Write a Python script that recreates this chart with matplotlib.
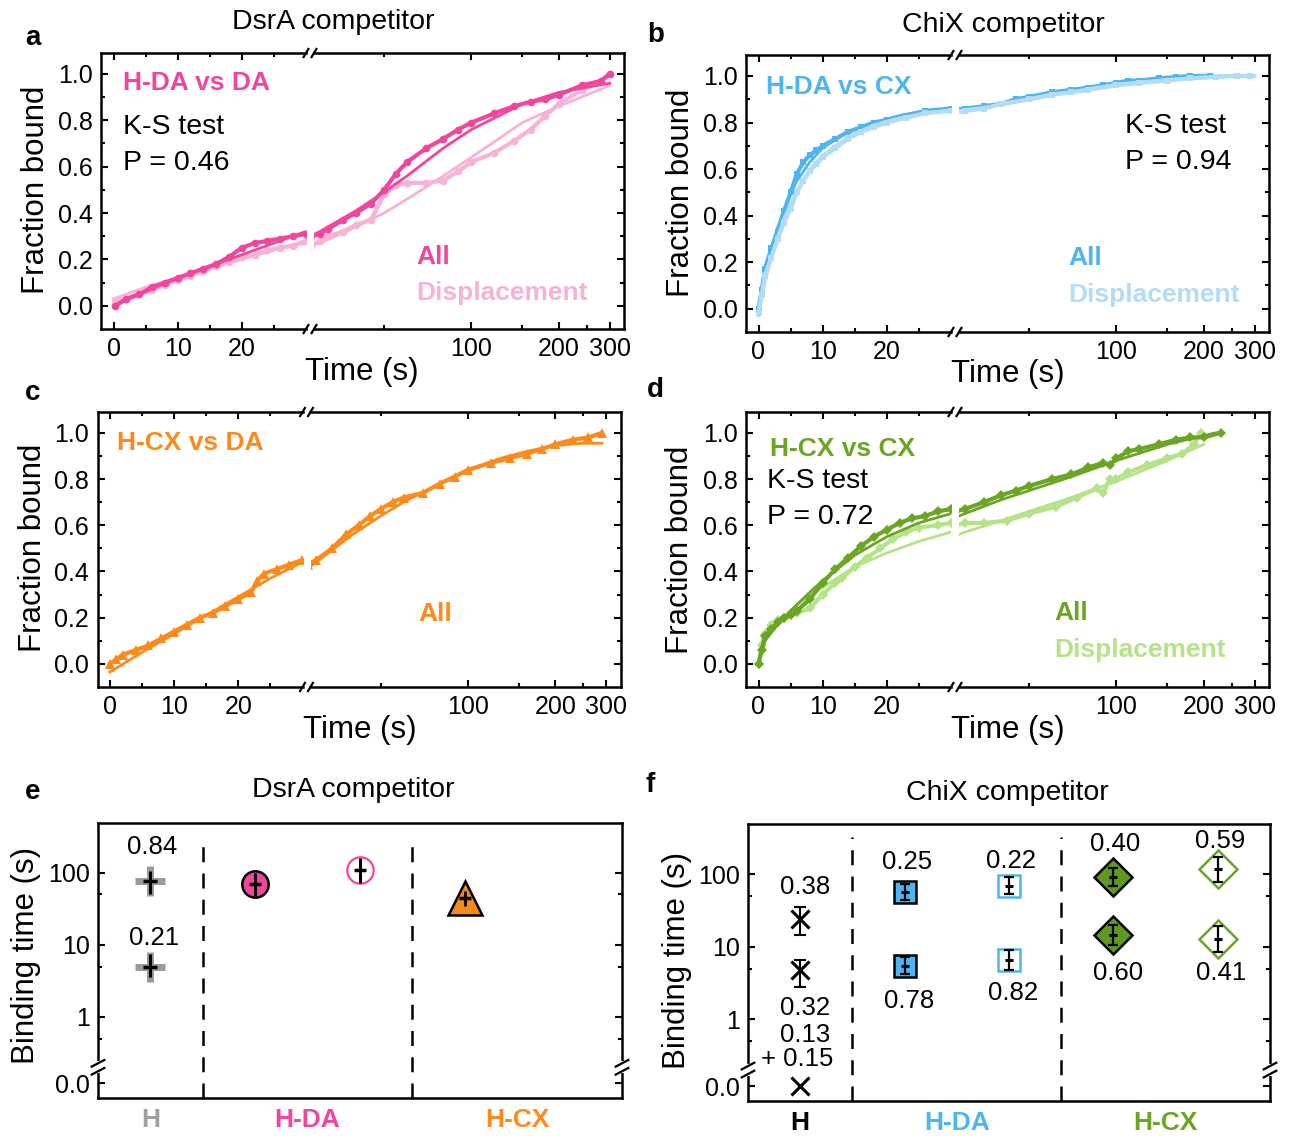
import numpy as np
import matplotlib
matplotlib.use('Agg')
import matplotlib.pyplot as plt
from matplotlib.lines import Line2D
from matplotlib.ticker import FixedLocator, NullFormatter, FixedFormatter

plt.rcParams['font.family'] = ['Liberation Sans', 'DejaVu Sans']

# ---------------- data: cumulative binding-time distributions ----------------
# panel a : H-DA vs DA
a_all_t = [0.3, 2, 4, 6, 8, 10, 12, 14, 16, 18, 20, 22, 24, 26, 28, 30, 32, 36, 40, 45, 50, 55, 60, 70, 80, 90, 100, 120, 140, 160, 180, 200, 240, 280, 300]
a_all_y = [0.0, 0.03, 0.05, 0.08, 0.10, 0.12, 0.14, 0.16, 0.18, 0.21, 0.25, 0.27, 0.28, 0.29, 0.30, 0.31, 0.33, 0.37, 0.40, 0.44, 0.50, 0.57, 0.62, 0.68, 0.72, 0.76, 0.79, 0.83, 0.86, 0.88, 0.89, 0.91, 0.95, 0.97, 1.0]
a_dis_t = [0.3, 2, 4, 6, 8, 10, 12, 14, 16, 18, 20, 22, 24, 26, 28, 30, 32, 36, 40, 45, 50, 55, 60, 70, 80, 90, 100, 120, 140, 160, 180, 200, 240, 280, 300]
a_dis_y = [0.02, 0.03, 0.05, 0.07, 0.09, 0.11, 0.13, 0.15, 0.17, 0.19, 0.21, 0.22, 0.24, 0.25, 0.26, 0.28, 0.30, 0.32, 0.35, 0.37, 0.48, 0.52, 0.53, 0.53, 0.54, 0.58, 0.62, 0.66, 0.71, 0.76, 0.82, 0.87, 0.93, 0.97, 1.0]
a_fit_all_t = [0, 5, 10, 15, 20, 25, 30, 40, 50, 60, 80, 100, 150, 200, 300]
a_fit_all_y = [0.0, 0.06, 0.12, 0.17, 0.22, 0.27, 0.32, 0.41, 0.49, 0.56, 0.68, 0.76, 0.87, 0.92, 0.96]
a_fit_dis_t = [0, 5, 10, 15, 20, 25, 30, 40, 50, 60, 80, 100, 150, 200, 300]
a_fit_dis_y = [0.03, 0.08, 0.12, 0.16, 0.20, 0.24, 0.27, 0.34, 0.40, 0.46, 0.56, 0.64, 0.79, 0.86, 0.95]

# panel b : H-DA vs CX
b_all_t = [0, 0.5, 1, 2, 3, 4, 5, 6, 7, 8, 9, 10, 12, 14, 16, 18, 20, 23, 26, 30, 35, 40, 45, 50, 60, 70, 80, 90, 100, 110, 120, 140, 160, 180, 210]
b_all_y = [0.0, 0.08, 0.17, 0.26, 0.33, 0.42, 0.50, 0.58, 0.63, 0.66, 0.68, 0.70, 0.73, 0.76, 0.78, 0.80, 0.81, 0.83, 0.85, 0.86, 0.87, 0.88, 0.90, 0.91, 0.93, 0.94, 0.95, 0.96, 0.97, 0.98, 0.98, 0.99, 0.995, 1.0, 1.0]
b_dis_t = [0, 0.5, 1, 2, 3, 4, 5, 6, 7, 8, 9, 10, 12, 14, 16, 18, 20, 23, 26, 30, 35, 40, 50, 60, 70, 80, 100, 120, 150, 180, 220, 260, 290]
b_dis_y = [-0.02, 0.06, 0.14, 0.22, 0.30, 0.37, 0.43, 0.50, 0.55, 0.59, 0.62, 0.65, 0.69, 0.73, 0.76, 0.78, 0.80, 0.82, 0.84, 0.85, 0.86, 0.88, 0.90, 0.92, 0.93, 0.94, 0.96, 0.97, 0.98, 0.99, 0.995, 1.0, 1.0]
b_fit_all_t = [0, 1, 2, 3, 4, 6, 8, 10, 14, 18, 22, 26, 30, 40, 60, 80, 100, 150, 200, 300]
b_fit_all_y = [0.0, 0.15, 0.26, 0.35, 0.43, 0.55, 0.63, 0.69, 0.76, 0.80, 0.83, 0.85, 0.86, 0.88, 0.92, 0.95, 0.97, 0.99, 1.0, 1.0]
b_fit_dis_t = [0, 1, 2, 3, 4, 6, 8, 10, 14, 18, 22, 26, 30, 40, 60, 80, 100, 150, 200, 300]
b_fit_dis_y = [-0.03, 0.11, 0.22, 0.31, 0.39, 0.51, 0.60, 0.66, 0.74, 0.79, 0.82, 0.84, 0.855, 0.875, 0.915, 0.945, 0.965, 0.985, 0.995, 1.0]

# panel c : H-CX vs DA
c_all_t = [0, 1, 2, 4, 6, 8, 10, 12, 14, 16, 18, 20, 22, 23, 24, 26, 28, 30, 34, 38, 42, 46, 50, 55, 60, 70, 80, 90, 100, 120, 140, 160, 180, 200, 230, 260, 290]
c_all_y = [0.0, 0.02, 0.04, 0.06, 0.08, 0.11, 0.14, 0.17, 0.20, 0.22, 0.25, 0.28, 0.31, 0.36, 0.39, 0.41, 0.43, 0.45, 0.50, 0.56, 0.60, 0.64, 0.67, 0.70, 0.72, 0.74, 0.78, 0.81, 0.84, 0.87, 0.89, 0.91, 0.93, 0.95, 0.97, 0.98, 1.0]
c_fit_t = [0, 5, 10, 15, 20, 25, 30, 40, 50, 60, 80, 100, 130, 160, 200, 250, 290]
c_fit_y = [-0.035, 0.05, 0.13, 0.21, 0.29, 0.37, 0.44, 0.56, 0.64, 0.70, 0.78, 0.84, 0.89, 0.92, 0.945, 0.955, 0.955]

# panel d : H-CX vs CX
d_all_t = [0, 0.5, 1, 2, 3, 4, 5, 6, 8, 10, 12, 14, 16, 18, 20, 22, 24, 26, 28, 30, 35, 40, 45, 50, 60, 70, 80, 90, 95, 100, 110, 120, 140, 160, 180, 200, 230]
d_all_y = [0.0, 0.06, 0.12, 0.15, 0.18, 0.20, 0.21, 0.23, 0.28, 0.35, 0.41, 0.46, 0.51, 0.55, 0.58, 0.61, 0.63, 0.64, 0.66, 0.67, 0.70, 0.73, 0.75, 0.77, 0.80, 0.82, 0.85, 0.87, 0.86, 0.89, 0.92, 0.93, 0.95, 0.97, 0.98, 0.98, 1.0]
d_dis_t = [0, 0.5, 1, 2, 3, 4, 6, 8, 10, 12, 13, 15, 17, 19, 21, 23, 25, 28, 30, 35, 42, 50, 62, 73, 86, 90, 95, 100, 110, 127, 150, 169, 185, 195]
d_dis_y = [0.0, 0.08, 0.13, 0.17, 0.19, 0.20, 0.22, 0.24, 0.30, 0.35, 0.37, 0.42, 0.46, 0.50, 0.54, 0.57, 0.59, 0.60, 0.61, 0.61, 0.62, 0.65, 0.68, 0.72, 0.76, 0.74, 0.80, 0.80, 0.83, 0.86, 0.89, 0.91, 0.95, 1.0]
d_fit_all_t = [0, 1, 3, 5, 8, 10, 15, 20, 25, 30, 40, 50, 70, 100, 150, 220]
d_fit_all_y = [0.0, 0.10, 0.17, 0.23, 0.31, 0.36, 0.47, 0.55, 0.61, 0.65, 0.71, 0.75, 0.81, 0.88, 0.95, 1.0]
d_fit_dis_t = [0, 1, 3, 5, 8, 10, 15, 20, 25, 30, 40, 50, 70, 100, 150, 200]
d_fit_dis_y = [0.0, 0.10, 0.18, 0.23, 0.30, 0.33, 0.42, 0.48, 0.53, 0.57, 0.62, 0.66, 0.72, 0.79, 0.88, 0.95]

# ---------------- data: binding times (panels e, f) ----------------
groups = ['H', 'H-DA', 'H-CX']
# panel e (DsrA competitor)
e_H_tau = [77, 5.0]
e_H_lo = [51, 3.6]
e_H_hi = [107, 7.4]
e_H_amp = ['0.84', '0.21']
e_HDA_tau = [70, 110]          # all, displacement
e_HDA_lo = [47, 73]
e_HDA_hi = [100, 160]
e_HCX_tau = [45]
e_HCX_lo = [35]
e_HCX_hi = [56]
# panel f (ChiX competitor)
f_H_tau = [24, 4.8, 0.0]
f_H_lo = [14.7, 2.8, 0.0]
f_H_hi = [35, 6.6, 0.0]
f_H_amp = ['0.38', '0.32', '0.13', '+ 0.15']
f_HDA_all_tau = [56, 5.4]
f_HDA_all_lo = [44, 4.2]
f_HDA_all_hi = [72, 7.3]
f_HDA_all_amp = ['0.25', '0.78']
f_HDA_dis_tau = [68, 6.6]
f_HDA_dis_lo = [53, 4.8]
f_HDA_dis_hi = [91, 9.1]
f_HDA_dis_amp = ['0.22', '0.82']
f_HCX_all_tau = [91, 14.7]
f_HCX_all_lo = [68, 10.6]
f_HCX_all_hi = [121, 20]
f_HCX_all_amp = ['0.40', '0.60']
f_HCX_dis_tau = [117, 12.9]
f_HCX_dis_lo = [77, 8.5]
f_HCX_dis_hi = [172, 19]
f_HCX_dis_amp = ['0.59', '0.41']

# ---------------- colours ----------------
PINK, PINK_L = '#F2469E', '#F7B2D6'
BLUE, BLUE_L = '#4DB5F0', '#B3DCF5'
ORANGE = '#FF8A1C'
GREEN, GREEN_L = '#6BA524', '#B5E387'
GREEN_F = '#5E9A1E'
GREY = '#A0A0A0'

W, H = 1293, 1136
fig = plt.figure(figsize=(W / 100, H / 100), dpi=100)


def fx(px):
    return px / W


def fy(py):
    return 1 - py / H


def rect(l, t, r, b):
    return [l / W, 1 - b / H, (r - l) / W, (b - t) / H]


def fline(x0, y0, x1, y1, **kw):
    fig.add_artist(Line2D([fx(x0), fx(x1)], [fy(y0), fy(y1)], transform=fig.transFigure,
                          color='k', lw=1.6, solid_capstyle='butt', **kw))


TICK_FS = 18
SP_LW = 1.8


def style_ticks(ax):
    ax.tick_params(which='both', direction='in', width=1.5, labelsize=TICK_FS)
    ax.tick_params(which='major', length=5, pad=6)
    ax.tick_params(which='minor', length=3)
    for s in ax.spines.values():
        s.set_linewidth(SP_LW)


def broken_panel(left, top, right, bottom, brk, gap=8):
    zero_px = left + 12.5
    x100 = left + 370.4
    axl = fig.add_axes(rect(left, top, brk - gap / 2, bottom))
    axr = fig.add_axes(rect(brk + gap / 2, top, right, bottom))
    axl.set_xlim(-12.5 / 6.41, (brk - gap / 2 - zero_px) / 6.41)
    axr.set_xscale('log')
    axr.set_xlim(100 * 10 ** ((brk + gap / 2 - x100) / 290), 100 * 10 ** ((right - x100) / 290))
    for ax in (axl, axr):
        ax.set_ylim(-0.1, 1.09)
        style_ticks(ax)
        ax.yaxis.set_major_locator(FixedLocator([0, 0.2, 0.4, 0.6, 0.8, 1.0]))
        ax.yaxis.set_minor_locator(FixedLocator([0.1, 0.3, 0.5, 0.7, 0.9]))
        ax.tick_params(top=True, bottom=True, which='both')
    axl.spines['right'].set_visible(False)
    axr.spines['left'].set_visible(False)
    axl.tick_params(left=True, right=False, which='both')
    axr.tick_params(left=False, right=True, labelleft=False, which='both')
    axl.yaxis.set_major_formatter(FixedFormatter(['0.0', '0.2', '0.4', '0.6', '0.8', '1.0']))
    axl.xaxis.set_major_locator(FixedLocator([0, 10, 20]))
    axl.xaxis.set_minor_locator(FixedLocator([5, 15, 25]))
    axl.xaxis.set_major_formatter(FixedFormatter(['0', '10', '20']))
    axr.xaxis.set_major_locator(FixedLocator([100, 200, 300]))
    axr.xaxis.set_major_formatter(FixedFormatter(['100', '200', '300']))
    axr.xaxis.set_minor_locator(FixedLocator([50, 150, 250]))
    axr.xaxis.set_minor_formatter(NullFormatter())
    # break marks
    for yy in (top, bottom):
        for xx in (brk - gap / 2, brk + gap / 2):
            fline(xx - 3, yy + 5, xx + 3, yy - 5)
    return axl, axr


def draw_series(axes, t, y, color, marker, ms, lw=3.0, z=3):
    for ax in axes:
        ax.plot(t, y, color=color, lw=lw, marker=marker, ms=ms, mew=0, zorder=z, clip_on=True)


def draw_fit(axes, t, y, color, z=4):
    for ax in axes:
        ax.plot(t, y, color=color, lw=2.0, zorder=z)


LAB_FS = 22.5
TITLE_FS = 20.5
TXT_FS = 20.5
BOLD_FS = 19
LET_FS = 20


def panel_texts(xl_x, xl_y, yl_x, yl_y):
    fig.text(fx(xl_x), fy(xl_y), 'Time (s)', fontsize=LAB_FS, ha='center', va='center')
    fig.text(fx(yl_x), fy(yl_y), 'Fraction bound', fontsize=LAB_FS, ha='center', va='center', rotation=90)


def ftxt(x, y, s, color='k', bold=False, fs=None, ha='left'):
    fig.text(fx(x), fy(y), s, color=color, fontsize=fs if fs else (BOLD_FS if bold else TXT_FS),
             fontweight='bold' if bold else 'normal', ha=ha, va='center')


# ---------- panel a ----------
axes_a = broken_panel(101, 53, 624, 329, 310)
draw_series(axes_a, a_dis_t, a_dis_y, PINK_L, 'o', 5.5)
draw_fit(axes_a, a_fit_dis_t, a_fit_dis_y, PINK_L)
draw_series(axes_a, a_all_t, a_all_y, PINK, 'o', 5.5, z=5)
draw_fit(axes_a, a_fit_all_t, a_fit_all_y, PINK, z=6)
panel_texts(362, 372, 36, 190)
ftxt(333, 22, 'DsrA competitor', fs=TITLE_FS, ha='center')
ftxt(25, 38, 'a', bold=True, fs=LET_FS)
ftxt(123, 83, 'H-DA vs DA', PINK, True)
ftxt(123, 127, 'K-S test')
ftxt(123, 163, 'P = 0.46')
ftxt(416, 257, 'All', PINK, True)
ftxt(416, 293, 'Displacement', PINK_L, True)

# ---------- panel b ----------
axes_b = broken_panel(746, 55, 1269, 332, 955)
draw_series(axes_b, b_all_t, b_all_y, BLUE, 's', 5)
draw_fit(axes_b, b_fit_all_t, b_fit_all_y, BLUE)
draw_series(axes_b, b_dis_t, b_dis_y, BLUE_L, 's', 5, z=5)
draw_fit(axes_b, b_fit_dis_t, b_fit_dis_y, BLUE_L, z=6)
panel_texts(1008, 374, 681, 193)
ftxt(1003, 25, 'ChiX competitor', fs=TITLE_FS, ha='center')
ftxt(647, 35, 'b', bold=True, fs=LET_FS)
ftxt(766, 87, 'H-DA vs CX', BLUE, True)
ftxt(1125, 126, 'K-S test')
ftxt(1125, 162, 'P = 0.94')
ftxt(1068, 258, 'All', BLUE, True)
ftxt(1068, 295, 'Displacement', BLUE_L, True)

# ---------- panel c ----------
axes_c = broken_panel(97.5, 412, 620.5, 687, 306.5)
draw_series(axes_c, c_all_t, c_all_y, ORANGE, '^', 6.5)
draw_fit(axes_c, c_fit_t, c_fit_y, ORANGE)
panel_texts(360, 730, 33, 548)
ftxt(25, 393, 'c', bold=True, fs=LET_FS)
ftxt(117, 443, 'H-CX vs DA', ORANGE, True)
ftxt(418, 614, 'All', ORANGE, True)

# ---------- panel d ----------
axes_d = broken_panel(746, 412, 1269, 687, 955)
draw_series(axes_d, d_dis_t, d_dis_y, GREEN_L, 'D', 5)
draw_fit(axes_d, d_fit_dis_t, d_fit_dis_y, GREEN_L)
draw_series(axes_d, d_all_t, d_all_y, GREEN, 'D', 5, z=5)
draw_fit(axes_d, d_fit_all_t, d_fit_all_y, GREEN, z=6)
panel_texts(1008, 730, 680, 550)
ftxt(647, 390, 'd', bold=True, fs=LET_FS)
ftxt(770, 449, 'H-CX vs CX', GREEN, True)
ftxt(767, 481, 'K-S test')
ftxt(767, 517, 'P = 0.72')
ftxt(1054, 613, 'All', GREEN, True)
ftxt(1054, 650, 'Displacement', GREEN_L, True)

# ---------- panels e, f ----------
ZERO_POS = 0.12
BRK_POS = 0.2
YMIN, YMAX = 0.075, 490
NUM_FS = 18.5


def zpos(v):
    return [ZERO_POS if x == 0 else x for x in v]


def cat_axes(left, top, right, bottom, label_colors):
    ax = fig.add_axes(rect(left, top, right, bottom))
    ax.set_yscale('log')
    ax.set_ylim(YMIN, YMAX)
    ax.set_xlim(0, 5)
    style_ticks(ax)
    ax.tick_params(top=False, bottom=False, labelbottom=False, left=True, right=True, which='both')
    ax.yaxis.set_major_locator(FixedLocator([ZERO_POS, 1, 10, 100]))
    ax.yaxis.set_major_formatter(FixedFormatter(['0.0', '1', '10', '100']))
    ax.yaxis.set_minor_locator(FixedLocator([0.5, 5, 50]))
    ax.yaxis.set_minor_formatter(NullFormatter())
    for xd in (1, 3):
        ax.plot([xd, xd], [YMIN, 320], color='k', lw=1.8, ls=(0, (6, 4.5)), zorder=1, clip_on=False)
    # y-axis break marks on both spines
    yb = (np.log10(BRK_POS) - np.log10(YMIN)) / (np.log10(YMAX) - np.log10(YMIN))
    hgt = bottom - top
    d = 4 / hgt
    for xs in (0, 1):
        ax.plot([xs, xs], [yb - d, yb + d], color='white', lw=3, transform=ax.transAxes,
                clip_on=False, zorder=10)
        for off in (-d, d):
            ax.plot([xs - 0.012, xs + 0.012], [yb + off - 0.012, yb + off + 0.012], color='k',
                    lw=1.6, transform=ax.transAxes, clip_on=False, zorder=11)
    for i, g in enumerate(groups):
        cx = 0.5 if i == 0 else 2 * i
        ax.text(cx, -0.08, g, color=label_colors[i], fontsize=BOLD_FS, fontweight='bold',
                ha='center', va='center', transform=ax.get_xaxis_transform())
    return ax


def ebar(ax, x, tau, lo, hi, cap, lw=1.6):
    tau = np.array(zpos(tau))
    lo = np.array(lo)
    hi = np.array(hi)
    ax.errorbar([x] * len(tau), tau, yerr=[tau - lo, hi - tau], fmt='none', ecolor='k',
                elinewidth=lw, capsize=cap, capthick=lw, zorder=6)


# panel e
ax_e = cat_axes(98, 823, 622, 1098, [GREY, PINK, ORANGE])
ax_e.plot([0.5] * len(e_H_tau), e_H_tau, ls='none', marker='+', ms=22, mew=5, color='#9A9A9A', zorder=4)
ebar(ax_e, 0.5, e_H_tau, e_H_lo, e_H_hi, 0, lw=2.2)
ax_e.plot([0.5] * len(e_H_tau), e_H_tau, ls='none', marker='_', ms=10, mew=2.5, color='k', zorder=7)
ax_e.plot([1.5], e_HDA_tau[:1], ls='none', marker='o', ms=19, mfc=PINK, mec='k', mew=1.8, zorder=4)
ax_e.plot([2.5], e_HDA_tau[1:], ls='none', marker='o', ms=19, mfc='white', mec=PINK, mew=1.6, zorder=4)
ebar(ax_e, 1.5, e_HDA_tau[:1], e_HDA_lo[:1], e_HDA_hi[:1], 0, lw=2.2)
ebar(ax_e, 2.5, e_HDA_tau[1:], e_HDA_lo[1:], e_HDA_hi[1:], 0, lw=2.2)
ax_e.plot([1.5, 2.5], e_HDA_tau, ls='none', marker='_', ms=8, mew=2.5, color='k', zorder=7)
ax_e.plot([3.5], e_HCX_tau, ls='none', marker='^', ms=25, mfc='#F28A1E', mec='k', mew=1.8, zorder=4)
ebar(ax_e, 3.5, e_HCX_tau, e_HCX_lo, e_HCX_hi, 0, lw=2.0)
ax_e.plot([3.5], e_HCX_tau, ls='none', marker='_', ms=8, mew=2.5, color='k', zorder=7)
ax_e.text(0.515, 228, e_H_amp[0], fontsize=NUM_FS, ha='center', va='center')
ax_e.text(0.534, 12.3, e_H_amp[1], fontsize=NUM_FS, ha='center', va='center')
fig.text(fx(26), fy(955), 'Binding time (s)', fontsize=LAB_FS, rotation=90, ha='center', va='center')
ftxt(353, 790, 'DsrA competitor', fs=TITLE_FS, ha='center')
ftxt(25, 792, 'e', bold=True, fs=LET_FS)

# panel f
ax_f = cat_axes(748, 824, 1270, 1101, ['black', BLUE, GREEN])
ax_f.plot([0.5] * len(f_H_tau), zpos(f_H_tau), ls='none', marker='x', ms=13, mew=2.2, color='k', zorder=4)
ebar(ax_f, 0.5, f_H_tau[:2], f_H_lo[:2], f_H_hi[:2], 4, lw=1.5)
ax_f.plot([1.5] * 2, f_HDA_all_tau, ls='none', marker='s', ms=16, mfc=BLUE, mec='k', mew=1.8, zorder=4)
ax_f.plot([2.5] * 2, f_HDA_dis_tau, ls='none', marker='s', ms=16, mfc='white', mec=BLUE, mew=1.8, zorder=4)
ax_f.plot([3.5] * 2, f_HCX_all_tau, ls='none', marker='D', ms=19, mfc=GREEN_F, mec='k', mew=1.8, zorder=4)
ax_f.plot([4.5] * 2, f_HCX_dis_tau, ls='none', marker='D', ms=19, mfc='white', mec=GREEN, mew=1.8, zorder=4)
ebar(ax_f, 1.5, f_HDA_all_tau, f_HDA_all_lo, f_HDA_all_hi, 3.5)
ebar(ax_f, 2.5, f_HDA_dis_tau, f_HDA_dis_lo, f_HDA_dis_hi, 3.5)
ebar(ax_f, 3.5, f_HCX_all_tau, f_HCX_all_lo, f_HCX_all_hi, 3.5)
ebar(ax_f, 4.5, f_HCX_dis_tau, f_HCX_dis_lo, f_HCX_dis_hi, 3.5)
for xx, vals in ((1.5, f_HDA_all_tau), (2.5, f_HDA_dis_tau), (3.5, f_HCX_all_tau), (4.5, f_HCX_dis_tau)):
    ax_f.plot([xx] * 2, vals, ls='none', marker='_', ms=6, mew=2.2, color='k', zorder=7)
ax_f.text(0.546, 66, f_H_amp[0], fontsize=NUM_FS, ha='center', va='center')
ax_f.text(0.546, 1.41, f_H_amp[1], fontsize=NUM_FS, ha='center', va='center')
ax_f.text(0.546, 0.60, f_H_amp[2], fontsize=NUM_FS, ha='center', va='center')
ax_f.text(0.47, 0.28, f_H_amp[3], fontsize=NUM_FS, ha='center', va='center')
lab_f = [(1.523, 147, 1.54, 1.8, f_HDA_all_amp), (2.52, 151, 2.54, 2.3, f_HDA_dis_amp),
         (3.515, 261, 3.54, 4.4, f_HCX_all_amp), (4.52, 287, 4.53, 4.4, f_HCX_dis_amp)]
for x1, y1, x2, y2, amp in lab_f:
    ax_f.text(x1, y1, amp[0], fontsize=NUM_FS, ha='center', va='center')
    ax_f.text(x2, y2, amp[1], fontsize=NUM_FS, ha='center', va='center')
fig.text(fx(677), fy(960), 'Binding time (s)', fontsize=LAB_FS, rotation=90, ha='center', va='center')
ftxt(1007, 793, 'ChiX competitor', fs=TITLE_FS, ha='center')
ftxt(645, 785, 'f', bold=True, fs=LET_FS)

fig.savefig('out.png', dpi=100)
